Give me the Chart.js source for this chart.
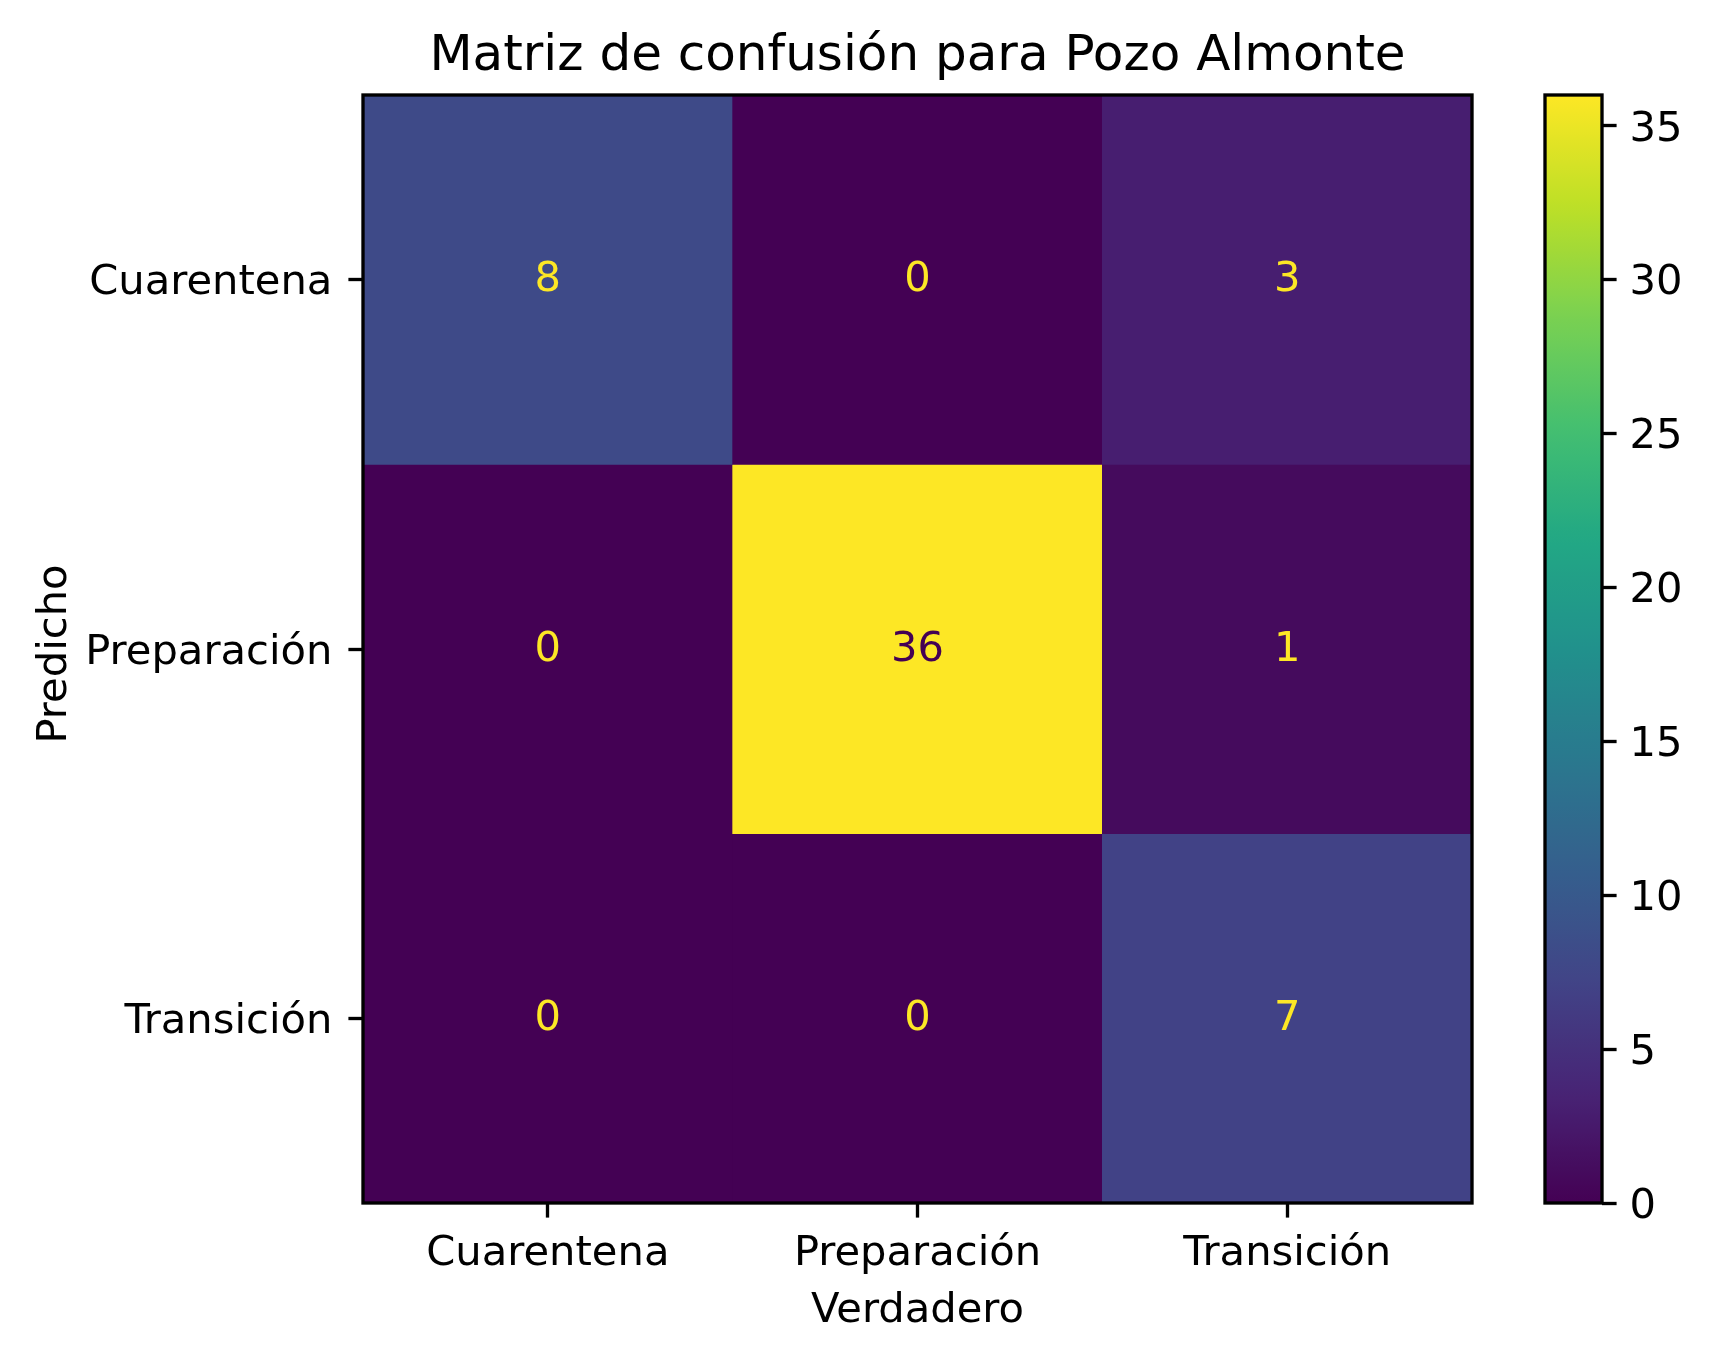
<!DOCTYPE html>
<html>
<head>
<meta charset="utf-8">
<script src="https://cdn.jsdelivr.net/npm/chart.js@4.4.1/dist/chart.umd.min.js"></script>
<style>
  html, body { margin: 0; padding: 0; background: #fff; }
  #wrap { position: relative; width: 1713px; height: 1361px; }
  canvas { position: absolute; left: 0; top: 0; }
</style>
</head>
<body>
<div id="wrap">
  <canvas id="main" width="1713" height="1361"></canvas>
  <canvas id="cbar" width="1713" height="1361"></canvas>
</div>
<script>
// ---- data ----
const trueLabels = ['Cuarentena', 'Preparación', 'Transición'];   // columns (x)
const predLabels = ['Cuarentena', 'Preparación', 'Transición'];   // rows (y)
const rowCuarentena  = [8, 0, 3];
const rowPreparacion = [0, 36, 1];
const rowTransicion  = [0, 0, 7];
const matrixRows = [rowCuarentena, rowPreparacion, rowTransicion];
const colorbarTicks = [0, 5, 10, 15, 20, 25, 30, 35];
const titleText = 'Matriz de confusión para Pozo Almonte';
const xTitle = 'Verdadero';
const yTitle = 'Predicho';

// ---- viridis ----
const viridisStops = ['#440154','#482475','#414487','#355f8d','#2a788e','#21918c','#22a884','#44bf70','#7ad151','#bddf26','#fde725'];
function hex2rgb(h){return [parseInt(h.slice(1,3),16),parseInt(h.slice(3,5),16),parseInt(h.slice(5,7),16)];}
function viridis(t){
  t = Math.max(0, Math.min(1, t));
  const p = t * (viridisStops.length - 1);
  const i = Math.min(Math.floor(p), viridisStops.length - 2);
  const f = p - i;
  const a = hex2rgb(viridisStops[i]), b = hex2rgb(viridisStops[i+1]);
  const c = a.map((v,k)=>Math.round(v + (b[k]-v)*f));
  return 'rgb(' + c.join(',') + ')';
}
const allVals = matrixRows.flat();
const vmin = Math.min(...allVals), vmax = Math.max(...allVals);
const norm = v => (v - vmin) / (vmax - vmin);

const FONT = "'DejaVu Sans', sans-serif";
const FS = 41.67;     // 10pt @300dpi
const TFS = 50;       // 12pt @300dpi
const TICKLEN = 14.6, LW = 3.33;
const AREA = { left: 363, top: 95, right: 1472, bottom: 1203 };

// ---- main chart ----
const datasets = matrixRows.map((row, r) => ({
  label: predLabels[r],
  data: row.map(() => [r - 0.5, r + 0.5]),
  backgroundColor: row.map(v => viridis(norm(v))),
  borderWidth: 0,
  grouped: false,
  barPercentage: 1,
  categoryPercentage: 1
}));

const cellPlugin = {
  id: 'cells',
  afterDatasetsDraw(chart) {
    const ctx = chart.ctx;
    const xs = chart.scales.x, ys = chart.scales.y;
    const thresh = (vmax + vmin) / 2;
    ctx.save();
    ctx.font = FS + 'px ' + FONT;
    ctx.textAlign = 'center';
    ctx.textBaseline = 'middle';
    matrixRows.forEach((row, r) => {
      row.forEach((v, c) => {
        ctx.fillStyle = v < thresh ? viridis(1) : viridis(0);
        ctx.fillText(String(v), xs.getPixelForValue(c), ys.getPixelForValue(r) + 1);
      });
    });
    ctx.restore();
  },
  afterDraw(chart) {
    const ctx = chart.ctx, a = chart.chartArea;
    ctx.save();
    ctx.strokeStyle = '#000';
    ctx.lineWidth = LW;
    ctx.strokeRect(a.left, a.top, a.right - a.left, a.bottom - a.top);
    ctx.fillStyle = '#000';
    ctx.font = TFS + 'px ' + FONT;
    ctx.textAlign = 'center';
    ctx.textBaseline = 'alphabetic';
    ctx.fillText(titleText, (a.left + a.right) / 2, 70);
    ctx.font = FS + 'px ' + FONT;
    ctx.fillText(xTitle, (a.left + a.right) / 2, 1322);
    ctx.translate(66, 654);
    ctx.rotate(-Math.PI / 2);
    ctx.fillText(yTitle, 0, 0);
    ctx.restore();
  }
};

new Chart(document.getElementById('main'), {
  type: 'bar',
  data: { labels: trueLabels, datasets },
  options: {
    responsive: false,
    animation: false,
    events: [],
    layout: { padding: { left: 0, top: AREA.top, right: 1713 - AREA.right, bottom: 0 } },
    plugins: { legend: { display: false }, tooltip: { enabled: false }, title: { display: false } },
    scales: {
      x: {
        type: 'category',
        offset: true,
        border: { display: false },
        grid: { display: true, offset: false, drawOnChartArea: false, drawTicks: true, tickLength: TICKLEN, tickWidth: LW, tickColor: '#000' },
        ticks: { color: '#000', font: { family: FONT, size: FS }, padding: 12, maxRotation: 0, autoSkip: false },
        afterFit(s) { s.height = 1361 - AREA.bottom; }
      },
      y: {
        type: 'linear',
        reverse: true,
        min: -0.5,
        max: 2.5,
        border: { display: false },
        grid: { display: true, drawOnChartArea: false, drawTicks: true, tickLength: TICKLEN, tickWidth: LW, tickColor: '#000' },
        afterBuildTicks(s) { s.ticks = predLabels.map((_, i) => ({ value: i })); },
        ticks: { color: '#000', font: { family: FONT, size: FS }, padding: 16, labelOffset: 4, callback: v => predLabels[v] },
        afterFit(s) { s.width = AREA.left; }
      }
    }
  },
  plugins: [cellPlugin]
});

// ---- colorbar ----
const CB = { left: 1545, right: 1602 };
const cbPlugin = {
  id: 'cbframe',
  afterDraw(chart) {
    const ctx = chart.ctx, a = chart.chartArea;
    ctx.save();
    ctx.strokeStyle = '#000';
    ctx.lineWidth = LW;
    ctx.strokeRect(a.left, a.top, a.right - a.left, a.bottom - a.top);
    ctx.restore();
  }
};
new Chart(document.getElementById('cbar'), {
  type: 'bar',
  data: {
    labels: [''],
    datasets: [{
      data: [[vmin, vmax]],
      borderWidth: 0,
      barPercentage: 1,
      categoryPercentage: 1,
      backgroundColor(ctx) {
        const chart = ctx.chart, a = chart.chartArea;
        if (!a) return viridis(0.5);
        const g = chart.ctx.createLinearGradient(0, a.bottom, 0, a.top);
        for (let i = 0; i <= 64; i++) g.addColorStop(i / 64, viridis(i / 64));
        return g;
      }
    }]
  },
  options: {
    responsive: false,
    animation: false,
    events: [],
    layout: { padding: { left: CB.left, top: AREA.top, right: 0, bottom: 1361 - AREA.bottom } },
    plugins: { legend: { display: false }, tooltip: { enabled: false } },
    scales: {
      x: { display: false },
      y: {
        position: 'right',
        type: 'linear',
        min: vmin,
        max: vmax,
        border: { display: false },
        grid: { display: true, drawOnChartArea: false, drawTicks: true, tickLength: TICKLEN, tickWidth: LW, tickColor: '#000' },
        afterBuildTicks(s) { s.ticks = colorbarTicks.map(v => ({ value: v })); },
        ticks: { color: '#000', font: { family: FONT, size: FS }, padding: 13, labelOffset: 4 },
        afterFit(s) { s.width = 1713 - CB.right; }
      }
    }
  },
  plugins: [cbPlugin]
});
</script>
</body>
</html>
